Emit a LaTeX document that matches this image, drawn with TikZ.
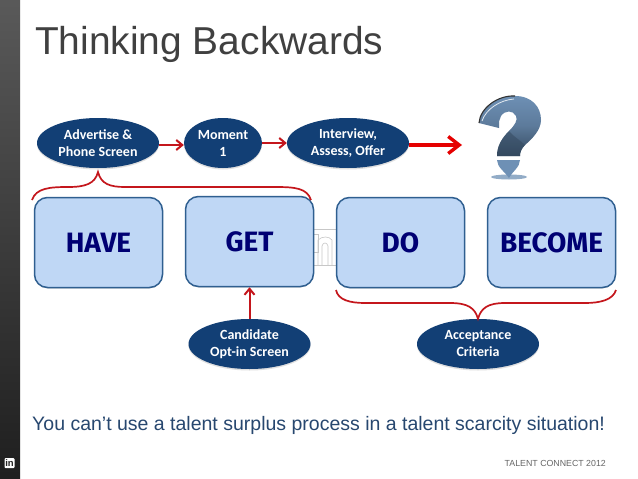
\documentclass[tikz,border=0pt]{standalone}
\usepackage{fontspec}
\setmainfont{Liberation Sans}
\newfontfamily\calf{Carlito}
\newfontfamily\fira{Fira Sans}
\usetikzlibrary{shapes.geometric,arrows.meta,shadows,calc}
\definecolor{navy}{HTML}{123F75}
\definecolor{boxfill}{HTML}{BFD7F5}
\definecolor{boxline}{HTML}{2F5F90}
\definecolor{redl}{HTML}{C4161C}
\definecolor{titlec}{HTML}{404040}
\definecolor{slogan}{HTML}{27476F}
\definecolor{qa}{HTML}{6E90B5}
\definecolor{qb}{HTML}{34495F}
\tikzset{
 x=1pt,y=-1pt,
 oval/.style={ellipse,fill=navy,minimum width=122pt,minimum height=50pt,inner sep=0pt,text=white,align=center,
   font=\calf\bfseries\fontsize{14}{17}\selectfont,drop shadow={shadow xshift=0pt,shadow yshift=-1.5pt,opacity=.25}},
 stagebox/.style={draw=boxline,line width=1.5pt,fill=boxfill,rounded corners=13pt,minimum width=128pt,minimum height=90pt,
   inner sep=0pt,text=blue!45!black,font=\fira\bfseries\fontsize{28}{32}\selectfont,drop shadow={shadow xshift=0pt,shadow yshift=-1pt,opacity=.3}},
 thinred/.style={draw=redl,line width=2pt,-{Straight Barb[length=6pt,width=10pt]}},
 brace/.style={draw=redl,line width=1.7pt},
}
\begin{document}
\begin{tikzpicture}
\useasboundingbox (0,0) rectangle (638,479);
\fill[white] (0,0) rectangle (638,479);
\shade[top color=black!65,bottom color=black!88] (0,0) rectangle (20,479);
\node[anchor=west,inner sep=0pt,text=titlec,font=\fontsize{38.9}{44}\selectfont] (title) at (35,44) {Thinking Backwards};
% ghost logo
\draw[black!22,line width=.6pt] (314,229) -- (336,229) (314,265) -- (336,265);
\draw[black!22,line width=.6pt] (314,234) -- (318,234) -- (318,252) -- (314,252);
\draw[black!22,line width=.6pt] (318,265) -- (318,240) .. controls (322,236) and (329,236) .. (332,240) -- (332,265);
\draw[black!22,line width=.6pt] (322,265) -- (322,246) .. controls (323,242) and (327,242) .. (328,246) -- (328,265);
% boxes
\node[stagebox] (have) at (98.5,242.5) {HAVE};
\node[stagebox] (get) at (249.5,241.5) {GET};
\node[stagebox] (do) at (400.5,242.5) {DO};
\node[stagebox] (become) at (551.5,242.5) {BECOME};
% ovals
\node[oval] (adv) at (98,143) {Advertise \&\\Phone Screen};
\node[oval,minimum width=78pt] (mom) at (223,143) {Moment\\1};
\node[oval] (int) at (348,143) {Interview,\\Assess, Offer};
\node[oval] (cand) at (249.5,344) {Candidate\\Opt-in Screen};
\node[oval] (acc) at (478,344) {Acceptance\\Criteria};
% connectors
\draw[thinred] (adv.east |- 0,145) -- (mom.west |- 0,145);
\draw[thinred] (mom.east |- 0,143) -- (int.west |- 0,143);
\coordinate (qtip) at (462,145);
\draw[draw=red!90!black,line width=4pt,-{Straight Barb[length=11pt,width=17pt,line width=3.4pt]}] (int.east |- 0,145) -- (qtip);
\draw[thinred] (cand.north) -- (get.south);
% braces
\coordinate (tl) at (32,200);
\coordinate (tr) at (311,200);
\draw[brace] (tl) .. controls (36,188) and (50,187) .. (68,187)
  .. controls (85,187) and (95,184) .. (98,172)
  .. controls (101,184) and (110,187) .. (125,187)
  -- (275,187) .. controls (295,187) and (307,188) .. (tr);
\coordinate (bl) at (336,290);
\coordinate (br) at (616,290);
\draw[brace] (bl) .. controls (338,300) and (350,303) .. (365,303)
  -- (450,303) .. controls (468,303) and (475,308) .. (acc.north)
  .. controls (481,308) and (488,303) .. (505,303)
  -- (585,303) .. controls (600,303) and (613,300) .. (br);
% question mark
\fill[qa!75] (509,177) ellipse (18pt and 2.5pt);
\fill[qa] (497,160) -- (520,160) .. controls (520,167) and (512,172) .. (509,178) .. controls (505,172) and (497,167) .. (497,160) -- cycle;
\shade[top color=qa,bottom color=qb,middle color=qa!70!qb]
  (479,123) .. controls (480,108) and (498,95) .. (515,96)
  .. controls (532,96) and (541,107) .. (541,120)
  .. controls (541,130) and (532,139) .. (525,145)
  .. controls (521,149) and (520,153) .. (520,156)
  -- (497,156) .. controls (497,146) and (502,138) .. (509,131)
  .. controls (515,125) and (518,120) .. (516,116)
  .. controls (513,110) and (505,110) .. (501,116)
  .. controls (499,119) and (499,122) .. (499,128) -- cycle;
\fill[qb,opacity=.55] (497,156) .. controls (497,146) and (502,138) .. (509,131)
  .. controls (514,137) and (520,140) .. (525,145) .. controls (521,149) and (520,153) .. (520,156) -- cycle;
\draw[white!80!qa,line width=.8pt] (482,121) .. controls (486,109) and (500,100) .. (514,99);
\draw[black!80,line width=1.1pt] (479,123) .. controls (480,108) and (498,95) .. (515,96);
\fill[white] (497,156.5) rectangle (520,158.5);
% footer text
\node[anchor=west,inner sep=0pt,text=slogan,font=\fontsize{19.5}{22}\selectfont] (slog) at (32,425) {You can’t use a talent surplus process in a talent scarcity situation!};
\node[anchor=east,inner sep=0pt,text=black!60,font=\fontsize{8.8}{10}\selectfont] (tc) at (606,463) {TALENT CONNECT 2012};
\node[fill=white,rounded corners=1pt,minimum size=10pt,inner sep=0pt,text=black!85,font=\bfseries\fontsize{9.5}{10}\selectfont] (li) at (9.5,463) {in};
\end{tikzpicture}
\end{document}
